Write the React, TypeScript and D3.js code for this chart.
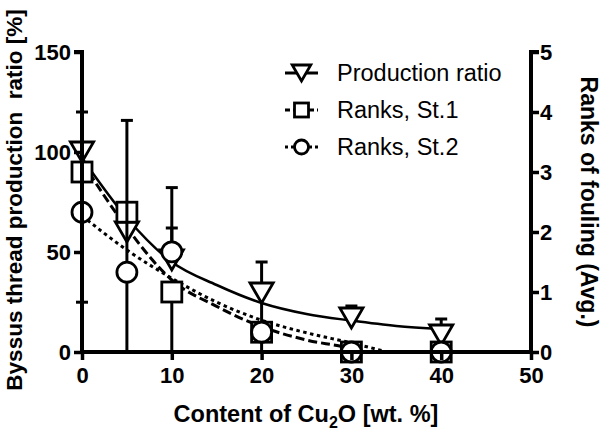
import { useRef, useEffect } from 'react';
import * as d3 from 'd3';

// measured points, x = Cu2O content [wt. %]
const contents = [0, 5, 10, 20, 30, 40];

// left axis, %
const productionRatio = [100, 60, 46, 29.5, 17, 8.5];
const productionErrUp = [0, 9, 16, 15.5, 6, 8];
const productionErrDown = [0, 0, 0, 29.5, 0, 0];

// right axis, ranks
const ranksSt1 = [3, 2.33, 1, 0.33, 0, 0];
const ranksSt1ErrUp = [0, 0, 0, 0, 0, 0];
const ranksSt1ErrDown = [0, 0, 1, 0, 0, 0];

const ranksSt2 = [2.33, 1.33, 1.67, 0.33, 0, 0];
const ranksSt2ErrUp = [1.67, 2.53, 1.07, 0, 0, 0];
const ranksSt2ErrDown = [1.5, 1.33, 0, 0, 0, 0];

// fitted curves
const fitProdX = [0, 5, 10, 15, 20, 25, 30, 35, 40];
const fitProdY = [97, 67, 45, 33.5, 24.5, 19, 15.7, 13, 11.5];
const fitSt1X = [0, 5, 10, 15, 20, 25, 30, 31];
const fitSt1Y = [3.17, 2.07, 1.2, 0.76, 0.42, 0.2, 0.05, 0];
const fitSt2X = [0, 5, 10, 15, 20, 25, 30, 34];
const fitSt2Y = [2.27, 1.7, 1.23, 0.83, 0.53, 0.32, 0.15, 0];

const leftTicks = [0, 50, 100, 150];
const rightTicks = [0, 1, 2, 3, 4, 5];
const bottomTicks = [0, 10, 20, 30, 40, 50];

const legendLabels = ['Production ratio', 'Ranks, St.1', 'Ranks, St.2'];

const font = '"Liberation Sans", Arial, sans-serif';
const plot = { left: 82, right: 531, top: 52, bottom: 352 };

type Marker = 'triangle' | 'square' | 'circle';

function drawMarker(g: d3.Selection<SVGGElement, unknown, null, undefined>, kind: Marker, cx: number, cy: number, size: number) {
  const h = size / 2;
  if (kind === 'square') {
    g.append('rect').attr('x', cx - h).attr('y', cy - h).attr('width', size).attr('height', size);
  } else if (kind === 'circle') {
    g.append('circle').attr('cx', cx).attr('cy', cy).attr('r', h);
  } else {
    const w = size * 0.58;
    g.append('path').attr('d', `M${cx - w},${cy - h}L${cx + w},${cy - h}L${cx},${cy + h}Z`);
  }
}

export default function App() {
  const svgRef = useRef<SVGSVGElement>(null);

  useEffect(() => {
    const svg = d3.select(svgRef.current);
    svg.selectAll('*').remove();

    const x = d3.scaleLinear().domain([0, 50]).range([plot.left, plot.right]);
    const yL = d3.scaleLinear().domain([0, 150]).range([plot.bottom, plot.top]);
    const yR = d3.scaleLinear().domain([0, 5]).range([plot.bottom, plot.top]);

    const series = [
      { values: productionRatio, up: productionErrUp, down: productionErrDown, y: yL, marker: 'triangle' as Marker, dash: null as string | null, fx: fitProdX, fy: fitProdY },
      { values: ranksSt1, up: ranksSt1ErrUp, down: ranksSt1ErrDown, y: yR, marker: 'square' as Marker, dash: '9,4', fx: fitSt1X, fy: fitSt1Y },
      { values: ranksSt2, up: ranksSt2ErrUp, down: ranksSt2ErrDown, y: yR, marker: 'circle' as Marker, dash: '3.5,3.5', fx: fitSt2X, fy: fitSt2Y },
    ];

    // fit curves
    series.forEach((s) => {
      const line = d3
        .line<number>()
        .x((d) => x(d))
        .y((_, i) => s.y(s.fy[i]))
        .curve(d3.curveMonotoneX);
      svg
        .append('path')
        .attr('d', line(s.fx))
        .attr('fill', 'none')
        .attr('stroke', '#000')
        .attr('stroke-width', s.dash ? 3 : 2.5)
        .attr('stroke-dasharray', s.dash);
    });

    // error bars + markers
    series.forEach((s) => {
      const eb = svg.append('g').attr('stroke', '#000').attr('stroke-width', 3).attr('fill', 'none');
      contents.forEach((c, i) => {
        const cx = x(c);
        const hi = s.values[i] + s.up[i];
        const lo = Math.max(0, s.values[i] - s.down[i]);
        if (s.up[i] > 0) {
          eb.append('line').attr('x1', cx).attr('x2', cx).attr('y1', s.y(s.values[i])).attr('y2', s.y(hi));
          eb.append('line').attr('x1', cx - 6).attr('x2', cx + 6).attr('y1', s.y(hi)).attr('y2', s.y(hi));
        }
        if (s.down[i] > 0) {
          eb.append('line').attr('x1', cx).attr('x2', cx).attr('y1', s.y(s.values[i])).attr('y2', s.y(lo));
          if (lo > 0) eb.append('line').attr('x1', cx - 6).attr('x2', cx + 6).attr('y1', s.y(lo)).attr('y2', s.y(lo));
        }
      });
      const mk = svg.append('g').attr('stroke', '#000').attr('stroke-width', 2.8).attr('fill', '#fff');
      contents.forEach((c, i) => drawMarker(mk, s.marker, x(c), s.y(s.values[i]), 20));
    });

    // axes
    const axes = svg.append('g');
    const left = axes.append('g').attr('transform', `translate(${plot.left},0)`).call(d3.axisLeft(yL).tickValues(leftTicks).tickSize(8).tickPadding(3));
    const right = axes
      .append('g')
      .attr('transform', `translate(${plot.right},0)`)
      .call(d3.axisRight(yR).tickValues(rightTicks).tickFormat(d3.format('d')).tickSize(8).tickPadding(1));
    const bottom = axes.append('g').attr('transform', `translate(0,${plot.bottom})`).call(d3.axisBottom(x).tickValues(bottomTicks).tickSize(8).tickPadding(7));

    [left, right, bottom].forEach((a) => {
      a.select('.domain').attr('stroke', '#000').attr('stroke-width', 4);
      a.selectAll('.tick line').attr('stroke', '#000').attr('stroke-width', 3.5);
      a.selectAll('.tick text').attr('fill', '#000').style('font-family', font).style('font-size', '22px').style('font-weight', 'bold');
    });
    left.select('.domain').attr('d', `M0,${plot.bottom}V${plot.top}H-8`);
    right.select('.domain').attr('d', `M0,${plot.bottom}V${plot.top}H8`);
    bottom.select('.domain').attr('d', `M${plot.left},0H${plot.right}`);

    // axis titles
    const title = (t: d3.Selection<SVGTextElement, unknown, null, undefined>, size: number) =>
      t.attr('fill', '#000').style('font-family', font).style('font-size', `${size}px`).style('font-weight', 'bold').attr('text-anchor', 'middle');

    const xt = svg.append('text').attr('x', 306).attr('y', 422).call(title, 23.5);
    xt.append('tspan').text('Content of Cu');
    xt.append('tspan').attr('dy', 6).style('font-size', '16px').text('2');
    xt.append('tspan').attr('dy', -6).text('O [wt. %]');

    svg
      .append('text')
      .attr('transform', `translate(22,${(plot.top + plot.bottom) / 2 - 2}) rotate(-90)`)
      .attr('xml:space', 'preserve')
      .style('white-space', 'pre')
      .call(title, 22.5)
      .text('Byssus thread production  ratio [%]');

    svg
      .append('text')
      .attr('transform', `translate(581,${(plot.top + plot.bottom) / 2}) rotate(90)`)
      .call(title, 23)
      .text('Ranks of fouling (Avg.)');

    // legend
    const legend = svg.append('g').attr('transform', 'translate(285,73)');
    series.forEach((s, i) => {
      const row = legend.append('g').attr('transform', `translate(0,${i * 37})`);
      row
        .append('line')
        .attr('x1', 0)
        .attr('x2', 33)
        .attr('stroke', '#000')
        .attr('stroke-width', 3)
        .attr('stroke-dasharray', s.dash ? (i === 1 ? '5,3' : '3,3') : null);
      const mk = row.append('g').attr('stroke', '#000').attr('stroke-width', 2.8).attr('fill', '#fff');
      drawMarker(mk, s.marker, 16.5, 0, s.marker === 'triangle' ? 16 : 14);
      row
        .append('text')
        .attr('x', 52)
        .attr('dy', '0.36em')
        .attr('fill', '#000')
        .style('font-family', font)
        .style('font-size', '23.5px')
        .text(legendLabels[i]);
    });
  }, []);

  return (
    <svg
      ref={svgRef}
      width={601}
      height={431}
      style={{ position: 'absolute', left: 0, top: 0, background: '#fff' }}
    />
  );
}
